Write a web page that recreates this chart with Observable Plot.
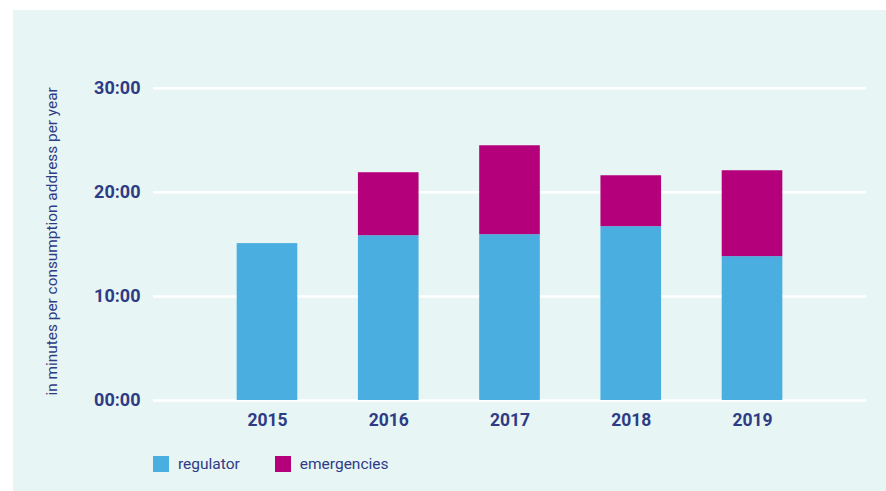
<!DOCTYPE html>
<html>
<head>
<meta charset="utf-8">
<script src="https://cdn.jsdelivr.net/npm/d3@7"></script>
<script src="https://cdn.jsdelivr.net/npm/@observablehq/plot@0.6"></script>
<style>
  html, body { margin: 0; padding: 0; background: #ffffff; }
  #panel {
    position: absolute; left: 13px; top: 10px; width: 873px; height: 481px;
    background: #e7f5f4; font-family: Roboto, sans-serif;
  }
  #chart svg { display: block; }
  #legend { position: absolute; left: 140px; top: 445px; display: flex; align-items: center; color: #2e3b85; font-size: 15.5px; }
  .sw { width: 16px; height: 16px; display: inline-block; margin-right: 9px; }
  .item { display: flex; align-items: center; margin-right: 35px; }
</style>
</head>
<body>
<div id="panel">
  <div id="chart"></div>
  <div id="legend"></div>
</div>
<script>
const years = ["2015", "2016", "2017", "2018", "2019"];
const regulator = [15.07, 15.83, 15.93, 16.70, 13.82];
const emergencies = [0, 6.05, 8.54, 4.89, 8.25];
const seriesNames = ["regulator", "emergencies"];
const seriesColors = ["#4aaee0", "#b5007c"];
const yTicks = [0, 10, 20, 30];
const yLabel = "in minutes per consumption address per year";

const rows = [];
years.forEach((y, i) => {
  rows.push({year: y, series: "regulator", value: regulator[i]});
  rows.push({year: y, series: "emergencies", value: emergencies[i]});
});

const navy = "#2e3b85";
const chart = Plot.plot({
  width: 873,
  height: 430,
  marginLeft: 140,
  marginRight: 20,
  marginTop: 77.7,
  marginBottom: 40,
  style: {background: "transparent", fontFamily: "Roboto, sans-serif", color: navy},
  x: {domain: years, paddingInner: 0.5, paddingOuter: 0.69, round: false},
  y: {domain: [0, 30]},
  color: {domain: seriesNames, range: seriesColors},
  marks: [
    Plot.ruleY(yTicks, {stroke: "#ffffff", strokeWidth: 2.5}),
    Plot.barY(rows, {x: "year", y: "value", fill: "series", order: seriesNames}),
    Plot.axisY({ticks: yTicks, tickSize: 0, tickPadding: 13, label: null,
      tickFormat: d => String(d).padStart(2, "0") + ":00",
      fontSize: 18, fontWeight: 700, fill: navy}),
    Plot.axisX({tickSize: 0, tickPadding: 13, label: null, fontSize: 17.5, fontWeight: 700, fill: navy}),
    Plot.text([yLabel], {frameAnchor: "left", textAnchor: "middle", lineAnchor: "middle", rotate: -90, dx: -101, dy: -3, fontSize: 15.4, fill: navy, text: d => d})
  ]
});
document.getElementById("chart").appendChild(chart);

const legend = document.getElementById("legend");
seriesNames.forEach((n, i) => {
  const it = document.createElement("div");
  it.className = "item";
  const sw = document.createElement("span");
  sw.className = "sw";
  sw.style.background = seriesColors[i];
  const t = document.createElement("span");
  t.textContent = n;
  it.appendChild(sw); it.appendChild(t);
  legend.appendChild(it);
});
</script>
</body>
</html>
